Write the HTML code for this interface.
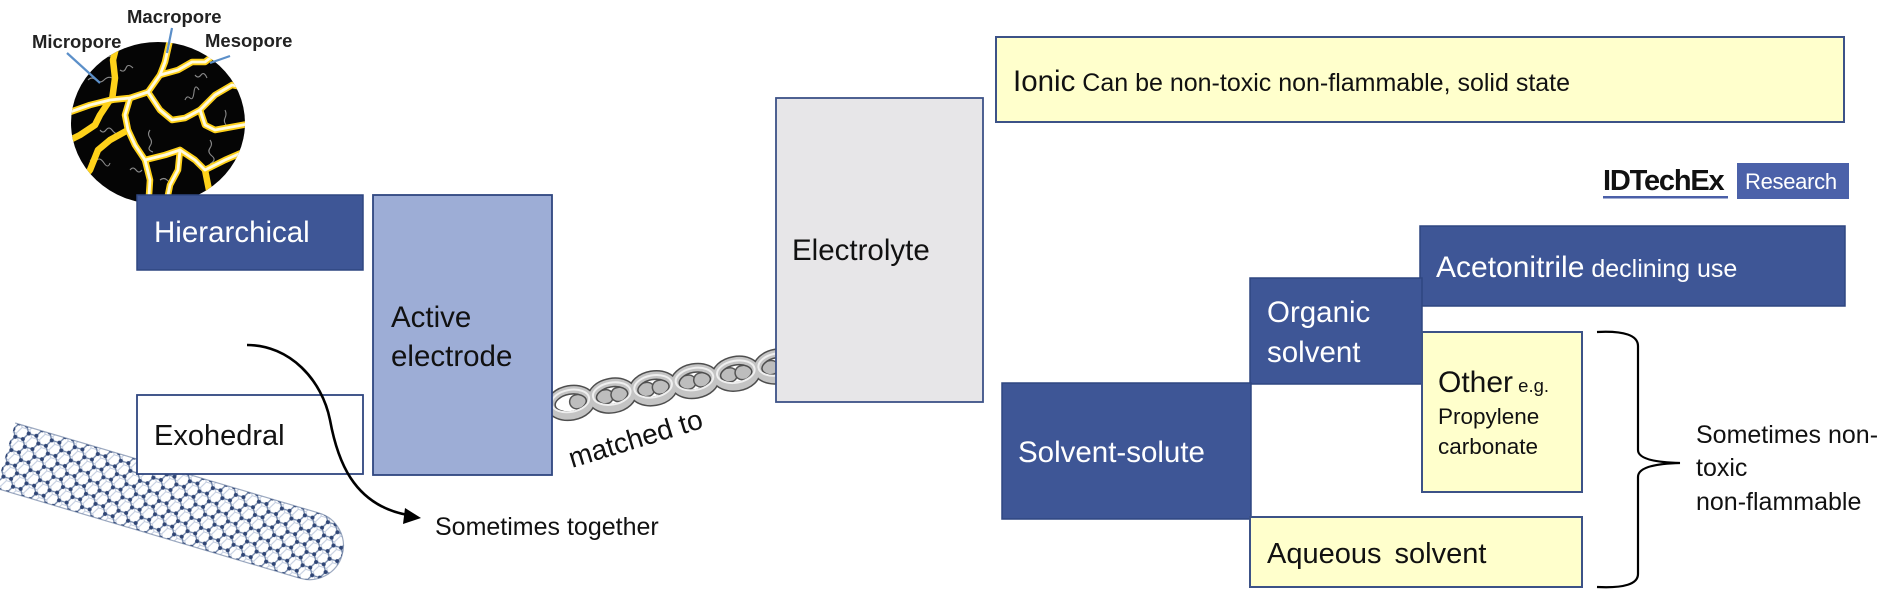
<!DOCTYPE html>
<html><head><meta charset="utf-8"><style>
html,body{margin:0;padding:0;background:#fff;width:1902px;height:607px;overflow:hidden}
svg{display:block}
text{font-family:"Liberation Sans",Arial,sans-serif}
</style></head><body>
<svg width="1902" height="607" viewBox="0 0 1902 607" xmlns="http://www.w3.org/2000/svg">
<defs>
<clipPath id="disk"><ellipse cx="158" cy="123" rx="87" ry="81"/></clipPath>
<pattern id="hexBack" patternUnits="userSpaceOnUse" width="24" height="13.856" x="4" y="3">
<path d="M0,6.928 L4,0 L12,0 L16,6.928 L12,13.856 L4,13.856 Z M16,6.928 L24,6.928" fill="none" stroke="#c3cde0" stroke-width="1.1"/>
</pattern>
<pattern id="hexFront" patternUnits="userSpaceOnUse" width="24" height="13.856">
<path d="M0,6.928 L4,0 L12,0 L16,6.928 L12,13.856 L4,13.856 Z M16,6.928 L24,6.928" fill="none" stroke="#6f84a8" stroke-width="1.3"/>
<g fill="#2f4575"><circle cx="0" cy="6.928" r="2"/><circle cx="4" cy="0" r="2"/><circle cx="12" cy="0" r="2"/><circle cx="16" cy="6.928" r="2"/><circle cx="12" cy="13.856" r="2"/><circle cx="4" cy="13.856" r="2"/><circle cx="24" cy="6.928" r="2"/></g>
</pattern>
<clipPath id="tube"><path d="M-12,-34 L305,-34 A34,34 0 0 1 305,34 L-12,34 Z"/></clipPath>
</defs>

<!-- pore image -->
<g>
<ellipse cx="158" cy="123" rx="87" ry="81" fill="#050505"/>
<g clip-path="url(#disk)">
<g fill="none" stroke="#8a8a8a" stroke-width="1.1">
<path d="M88,80 q4,-4 8,0 t8,0 t8,-2"/><path d="M100,130 q3,4 6,0 t6,0 t6,4"/><path d="M185,100 q2,-5 5,-2 t4,-6 t5,-2"/>
<path d="M120,70 q4,3 6,-2 t7,0"/><path d="M210,140 q3,4 0,8 t2,8 t-2,8"/><path d="M150,130 q-3,4 0,8 t0,8 t3,6"/>
<path d="M90,160 q4,3 7,0 t7,3 t6,0"/><path d="M130,170 q3,-4 6,0 t6,0"/><path d="M195,75 q3,4 6,0 t6,3"/>
<path d="M225,110 q2,4 0,8 t2,8"/><path d="M160,180 q4,-3 7,0 t6,2"/><path d="M105,55 q4,3 7,0"/>
</g>
<g fill="none" stroke="#ffd21a" stroke-width="6.5" stroke-linejoin="round" stroke-linecap="round">
<path d="M170,40 L165,62 L160,75 L148,92 L130,98 L110,100 L90,105 L70,112"/>
<path d="M160,75 L178,70 L192,62 L205,62 L218,52"/>
<path d="M148,92 L160,110 L172,120 L185,118 L200,110 L215,95 L232,85 L248,88"/>
<path d="M200,110 L205,125 L215,130 L248,124"/>
<path d="M130,98 L125,115 L128,130 L135,145 L145,160 L150,180 L148,210"/>
<path d="M110,100 L100,115 L95,125 L80,135 L70,140"/>
<path d="M145,160 L165,155 L180,150 L195,160 L205,170 L225,160 L248,150"/>
<path d="M128,130 L110,140 L98,150 L90,170 L82,180"/>
<path d="M180,150 L178,170 L170,185 L165,210"/>
<path d="M112,100 L115,78 L113,60 L118,40"/>
<path d="M205,170 L210,195"/>
</g>
<g fill="none" stroke="#fffbe0" stroke-width="2.8" stroke-linejoin="round" stroke-linecap="round">
<path d="M170,40 L165,62 L160,75 L148,92 L130,98 L110,100 L90,105 L70,112"/>
<path d="M160,75 L178,70 L192,62 L205,62 L218,52"/>
<path d="M148,92 L160,110 L172,120 L185,118 L200,110 L215,95 L232,85 L248,88"/>
<path d="M130,98 L125,115 L128,130 L135,145 L145,160 L150,180 L148,210"/>
<path d="M145,160 L165,155 L180,150 L195,160 L205,170 L225,160 L248,150"/>
<path d="M200,110 L205,125 L215,130 L248,124"/>
<path d="M180,150 L178,170 L170,185 L165,210"/>
</g>
</g>
<g stroke="#5b8fc9" stroke-width="2.2" fill="none">
<path d="M67,53 L100,83"/><path d="M172,28 L167,53"/><path d="M230,56 L210,63"/>
</g>
<g font-weight="bold" font-size="18.5" fill="#222">
<text x="32" y="48">Micropore</text>
<text x="127" y="23">Macropore</text>
<text x="205" y="47">Mesopore</text>
</g>
</g>

<!-- nanotube -->
<g transform="translate(17,459) rotate(16.5)">
<g clip-path="url(#tube)">
<rect x="-20" y="-40" width="370" height="80" fill="url(#hexBack)"/>
<rect x="-20" y="-40" width="370" height="80" fill="url(#hexFront)"/>
</g>
<path d="M-12,-34 L305,-34 A34,34 0 0 1 305,34 L-12,34" fill="none" stroke="#5a6f96" stroke-width="1.2" opacity="0.6"/>
</g>

<!-- chain -->
<g transform="translate(553,406) rotate(-10)">
<g>
<rect x="17" y="-7" width="44" height="14" rx="7" fill="#bdbdbd" stroke="#555" stroke-width="1.5"/>
<rect x="59" y="-7" width="44" height="14" rx="7" fill="#bdbdbd" stroke="#555" stroke-width="1.5"/>
<rect x="101" y="-7" width="44" height="14" rx="7" fill="#bdbdbd" stroke="#555" stroke-width="1.5"/>
<rect x="143" y="-7" width="44" height="14" rx="7" fill="#bdbdbd" stroke="#555" stroke-width="1.5"/>
<rect x="185" y="-7" width="44" height="14" rx="7" fill="#bdbdbd" stroke="#555" stroke-width="1.5"/>
</g>
<g fill="none">
<g stroke="#4e4e4e" stroke-width="10">
<ellipse cx="18" cy="0" rx="20" ry="13"/><ellipse cx="60" cy="0" rx="20" ry="13"/><ellipse cx="102" cy="0" rx="20" ry="13"/><ellipse cx="144" cy="0" rx="20" ry="13"/><ellipse cx="186" cy="0" rx="20" ry="13"/><ellipse cx="228" cy="0" rx="20" ry="13"/>
</g>
<g stroke="#c4c4c4" stroke-width="7">
<ellipse cx="18" cy="0" rx="20" ry="13"/><ellipse cx="60" cy="0" rx="20" ry="13"/><ellipse cx="102" cy="0" rx="20" ry="13"/><ellipse cx="144" cy="0" rx="20" ry="13"/><ellipse cx="186" cy="0" rx="20" ry="13"/><ellipse cx="228" cy="0" rx="20" ry="13"/>
</g>
<g stroke="#efefef" stroke-width="2">
<ellipse cx="18" cy="-2" rx="19" ry="11"/><ellipse cx="60" cy="-2" rx="19" ry="11"/><ellipse cx="102" cy="-2" rx="19" ry="11"/><ellipse cx="144" cy="-2" rx="19" ry="11"/><ellipse cx="186" cy="-2" rx="19" ry="11"/><ellipse cx="228" cy="-2" rx="19" ry="11"/>
</g>
</g>
</g>
<text transform="translate(572,468) rotate(-17)" font-size="28" fill="#111">matched to</text>

<!-- left boxes -->
<rect x="137" y="195" width="226" height="75" fill="#3e5696" stroke="#2f4680" stroke-width="1.5"/>
<text x="154" y="242" font-size="29.5" fill="#fff">Hierarchical</text>
<rect x="137" y="395" width="226" height="79" fill="#fff" stroke="#2f4680" stroke-width="1.8"/>
<text x="154" y="445" font-size="29" fill="#111">Exohedral</text>
<rect x="373" y="195" width="179" height="280" fill="#9dadd6" stroke="#2f4680" stroke-width="1.8"/>
<text x="391" y="327" font-size="29.5" fill="#111">Active</text>
<text x="391" y="366" font-size="29.5" fill="#111">electrode</text>

<!-- curved arrow -->
<path d="M247,345 C290,345 322,380 330,420 C337,458 352,505 408,515" fill="none" stroke="#000" stroke-width="2.6"/>
<polygon points="421,518 405,508 403,524" fill="#000"/>
<text x="435" y="535" font-size="25" fill="#111">Sometimes together</text>

<!-- electrolyte -->
<rect x="776" y="98" width="207" height="304" fill="#e7e6e8" stroke="#3c5287" stroke-width="1.8"/>
<text x="792" y="260" font-size="29.5" fill="#111">Electrolyte</text>

<!-- ionic -->
<rect x="996" y="37" width="848" height="85" fill="#ffffcc" stroke="#3c5287" stroke-width="2"/>
<text x="1013" y="91" fill="#111"><tspan font-size="29.5">Ionic</tspan><tspan font-size="25"> Can be non-toxic non-flammable, solid state</tspan></text>

<!-- logo -->
<text x="1603" y="190" font-size="29" font-weight="bold" letter-spacing="-1.2" fill="#111">IDTechEx</text>
<rect x="1603" y="196" width="125" height="2.5" fill="#4a5fa8"/>
<rect x="1737" y="163" width="112" height="36" fill="#4b61a9"/>
<text x="1745" y="189" font-size="22" fill="#fff" letter-spacing="-0.3">Research</text>

<!-- right tree -->
<rect x="1420" y="226" width="425" height="80" fill="#3e5696" stroke="#2f4680" stroke-width="1.5"/>
<text x="1436" y="277" fill="#fff"><tspan font-size="30">Acetonitrile</tspan><tspan font-size="25"> declining use</tspan></text>
<rect x="1250" y="278" width="172" height="106" fill="#3e5696" stroke="#2f4680" stroke-width="1.5"/>
<text x="1267" y="322" font-size="29.5" fill="#fff">Organic</text>
<text x="1267" y="362" font-size="29.5" fill="#fff">solvent</text>
<rect x="1422" y="332" width="160" height="160" fill="#ffffcc" stroke="#3c5287" stroke-width="2"/>
<text x="1438" y="392" fill="#111"><tspan font-size="30">Other</tspan><tspan font-size="18.5"> e.g.</tspan></text>
<text x="1438" y="424" font-size="22.5" fill="#111">Propylene</text>
<text x="1438" y="454" font-size="22.5" fill="#111">carbonate</text>
<rect x="1002" y="383" width="249" height="136" fill="#3e5696" stroke="#2f4680" stroke-width="1.5"/>
<text x="1018" y="462" font-size="29.5" fill="#fff">Solvent-solute</text>
<rect x="1250" y="517" width="332" height="70" fill="#ffffcc" stroke="#3c5287" stroke-width="2"/>
<text x="1267" y="563" font-size="29" fill="#111" word-spacing="5">Aqueous solvent</text>

<!-- brace -->
<path d="M1597,332 Q1638,330 1638,346 L1638,450 Q1638,462 1680,463 Q1638,464 1638,477 L1638,574 Q1638,589 1597,587" fill="none" stroke="#000" stroke-width="2.2"/>
<text x="1696" y="443" font-size="25" fill="#111">Sometimes non-</text>
<text x="1696" y="476" font-size="25" fill="#111">toxic</text>
<text x="1696" y="510" font-size="25" fill="#111">non-flammable</text>
</svg>
</body></html>
